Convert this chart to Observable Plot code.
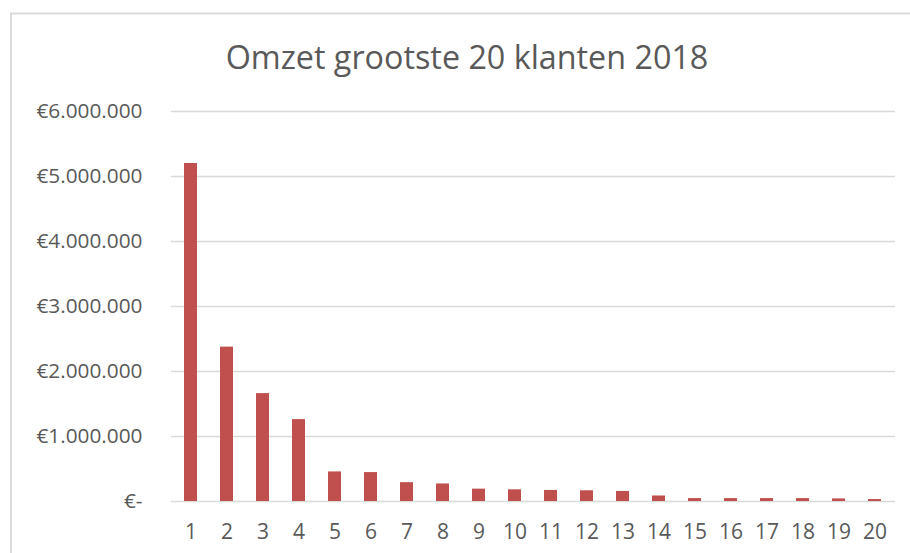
<!DOCTYPE html>
<html><head><meta charset="utf-8">
<script src="https://cdn.jsdelivr.net/npm/d3@7"></script>
<script src="https://cdn.jsdelivr.net/npm/@observablehq/plot@0.6"></script>
<style>
html,body{margin:0;padding:0;background:#fff;}
#chart{position:relative;width:910px;height:553px;overflow:hidden;}
</style></head><body><div id="chart"></div>
<script>
const title = "Omzet grootste 20 klanten 2018";
const customers = ["1","2","3","4","5","6","7","8","9","10","11","12","13","14","15","16","17","18","19","20"];
const revenue = [5200000, 2375000, 1660000, 1260000, 455000, 445000, 290000, 270000, 190000, 180000, 170000, 165000, 155000, 85000, 45000, 45000, 45000, 45000, 40000, 30000];
const yTicks = [0, 1000000, 2000000, 3000000, 4000000, 5000000, 6000000];
const yTickLabels = ["€-", "€1.000.000", "€2.000.000", "€3.000.000", "€4.000.000", "€5.000.000", "€6.000.000"];

const data = customers.map((c, i) => ({customer: c, revenue: revenue[i]}));

const plot = Plot.plot({
  width: 910, height: 553,
  marginLeft: 171, marginRight: 15, marginTop: 111, marginBottom: 52,
  style: {fontFamily: "'Open Sans', sans-serif", color: "#595959", background: "transparent"},
  x: {domain: customers, paddingInner: 0.63, paddingOuter: 0.315, label: null},
  y: {domain: [0, 6000000], label: null},
  marks: [
    Plot.gridY(yTicks, {stroke: "#d9d9d9", strokeOpacity: 1, strokeWidth: 1.5}),
    Plot.barY(data, {x: "customer", y: "revenue", fill: "#C0504D"}),
    Plot.axisY(yTicks, {tickSize: 0, tickPadding: 29, tickFormat: d => yTickLabels[yTicks.indexOf(d)], fontSize: 20.8, fill: "#595959", label: null}),
    Plot.axisX({tickSize: 0, tickPadding: 23, fontSize: 21, fill: "#595959", label: null})
  ]
});

const svg = d3.select(plot);
svg.insert("rect", ":first-child")
  .attr("x", 11).attr("y", 13.5).attr("width", 1200).attr("height", 1200)
  .attr("fill", "none").attr("stroke", "#d9d9d9").attr("stroke-width", 2);
svg.append("text")
  .attr("x", 467).attr("y", 68.5)
  .attr("text-anchor", "middle")
  .attr("font-family", "'Open Sans', sans-serif")
  .attr("font-size", 32.3)
  .attr("fill", "#595959")
  .text(title);

document.getElementById("chart").appendChild(plot);
</script>
</body></html>
